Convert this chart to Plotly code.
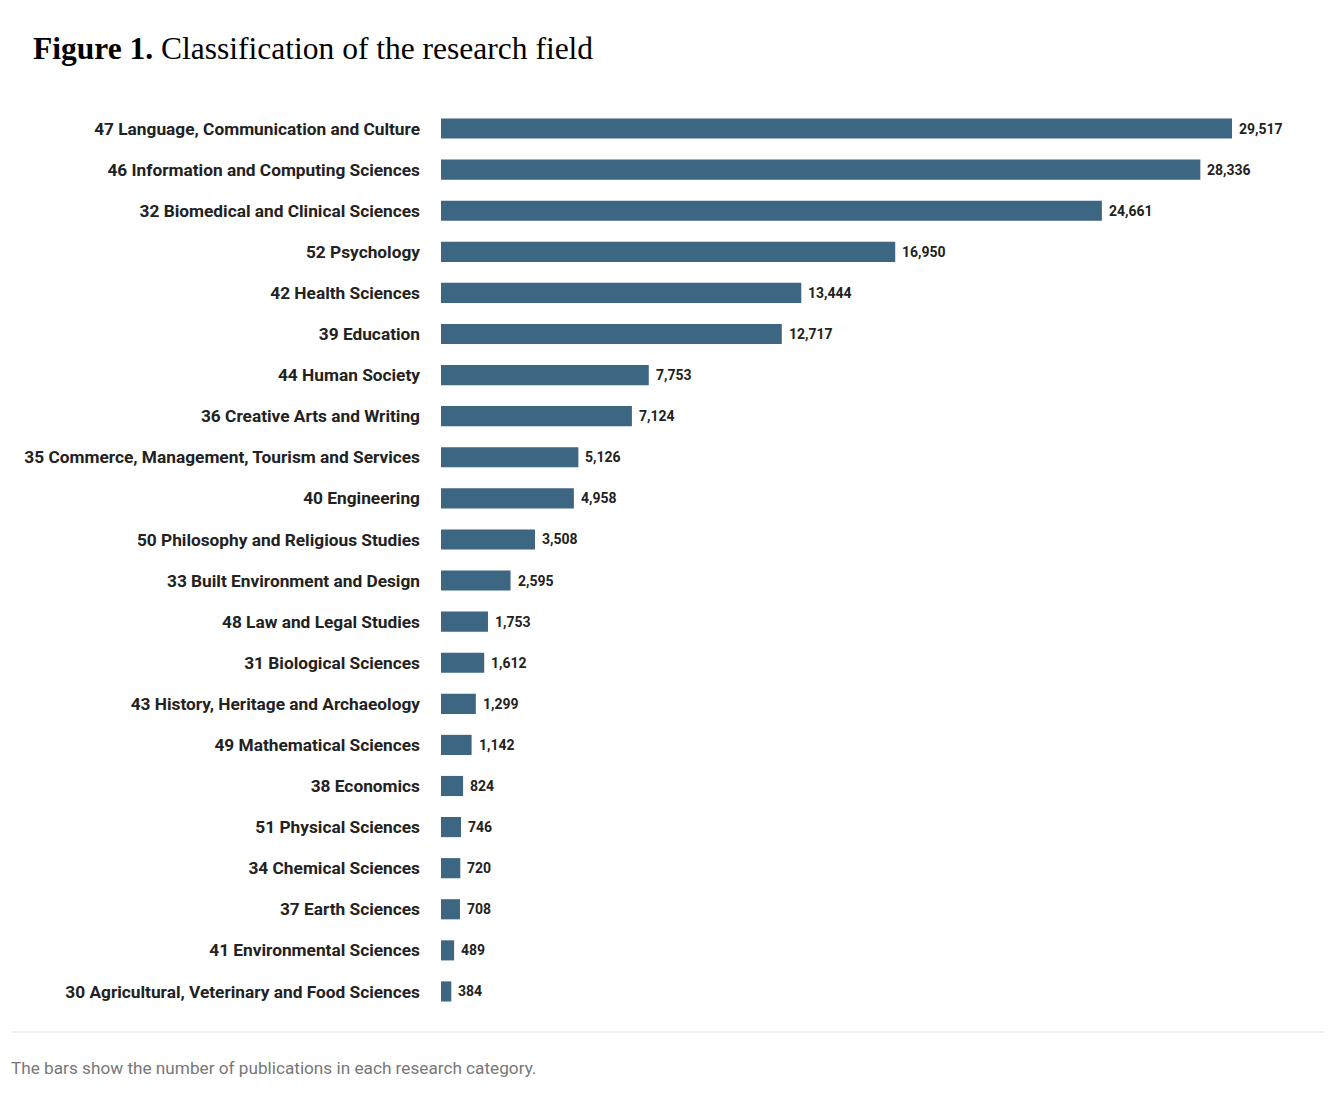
import plotly.graph_objects as go

categories = [
    "47 Language, Communication and Culture",
    "46 Information and Computing Sciences",
    "32 Biomedical and Clinical Sciences",
    "52 Psychology",
    "42 Health Sciences",
    "39 Education",
    "44 Human Society",
    "36 Creative Arts and Writing",
    "35 Commerce, Management, Tourism and Services",
    "40 Engineering",
    "50 Philosophy and Religious Studies",
    "33 Built Environment and Design",
    "48 Law and Legal Studies",
    "31 Biological Sciences",
    "43 History, Heritage and Archaeology",
    "49 Mathematical Sciences",
    "38 Economics",
    "51 Physical Sciences",
    "34 Chemical Sciences",
    "37 Earth Sciences",
    "41 Environmental Sciences",
    "30 Agricultural, Veterinary and Food Sciences",
]
publications = [29517, 28336, 24661, 16950, 13444, 12717, 7753, 7124, 5126, 4958,
                3508, 2595, 1753, 1612, 1299, 1142, 824, 746, 720, 708, 489, 384]

title_bold = "Figure 1."
title_rest = "Classification of the research field"
footer = "The bars show the number of publications in each research category."

OFF = 8  # page body margin
W, H = 1333, 1107
ML, MR, MT, MB = 441 - OFF, 13 + OFF, 108 - OFF, 95 + OFF
PW = W - ML - MR
PH = H - MT - MB
xmax = 29517 * PW / 791


def px_x(x):
    return (x - OFF - ML) / PW


def px_y(y):
    return 1 - (y - OFF - MT) / PH


fig = go.Figure(go.Bar(
    x=publications,
    y=categories,
    orientation="h",
    marker=dict(color="#3d6682", line=dict(width=0)),
    hoverinfo="skip",
))

annotations = [
    dict(x=v, y=c, text=f"{v:,}", xanchor="left", yanchor="middle",
         xshift=5, showarrow=False,
         font=dict(family="Roboto", size=14, color="#222222", weight="bold"))
    for c, v in zip(categories, publications)
]
annotations += [
    dict(text=f"<b>{title_bold}</b> {title_rest}", xref="paper", yref="paper",
         x=px_x(31), y=px_y(48), xanchor="left", yanchor="middle", showarrow=False,
         font=dict(family="Liberation Serif", size=31.5, color="#000000")),
    dict(text=footer, xref="paper", yref="paper",
         x=px_x(9), y=px_y(1068), xanchor="left", yanchor="middle", showarrow=False,
         font=dict(family="Roboto", size=17.2, color="#777777")),
]

fig.update_layout(
    width=W, height=H,
    margin=dict(l=ML, r=MR, t=MT, b=MB),
    paper_bgcolor="white", plot_bgcolor="white",
    bargap=0.51,
    showlegend=False,
    xaxis=dict(range=[0, xmax], visible=False, fixedrange=True),
    yaxis=dict(
        autorange="reversed",
        showgrid=False, zeroline=False, showline=False,
        ticks="", ticklabelstandoff=20,
        tickfont=dict(family="Roboto", size=17.3, color="#222222", weight="bold"),
    ),
    annotations=annotations,
    shapes=[
        dict(type="line", xref="paper", yref="paper",
             x0=px_x(11), x1=px_x(1325), y0=px_y(1032), y1=px_y(1032),
             line=dict(color="#e3e3e3", width=1)),
    ],
)

fig.write_html("out.html")
